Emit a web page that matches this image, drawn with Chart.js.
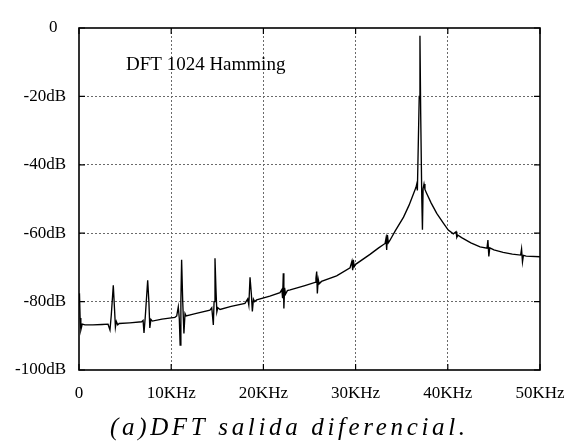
<!DOCTYPE html>
<html>
<head>
<meta charset="utf-8">
<script src="https://cdn.jsdelivr.net/npm/chart.js@4"></script>
<style>
  html, body { margin: 0; padding: 0; background: #fff; }
  #wrap { position: relative; width: 568px; height: 441px; }
</style>
</head>
<body>
<div id="wrap"><canvas id="c" width="568" height="441"></canvas></div>
<script>
// ---- data ----
const freqKHz = [
  0.05, 0.12, 0.2, 0.35, 0.65, 1.5, 2.5, 3.15, 3.36, 3.5, 3.72, 3.85, 3.95, 4.05, 4.2, 4.35,
  5.5, 6.8, 6.95, 7.05, 7.2, 7.45, 7.58, 7.68, 7.8, 7.95, 9.0, 10.4, 10.6, 10.77, 10.88, 10.97,
  11.05, 11.13, 11.25, 11.38, 11.5, 11.62, 12.5, 14.2, 14.4, 14.57, 14.65, 14.75, 14.85, 14.95,
  15.05, 15.3, 16.5, 18.0, 18.3, 18.42, 18.55, 18.7, 18.8, 18.92, 19.05, 19.27, 20.7, 21.8,
  22.0, 22.08, 22.16, 22.22, 22.3, 22.4, 22.6, 22.9, 24.5, 25.6, 25.7, 25.78, 25.85, 25.95,
  26.05, 26.3, 27.94, 29.4, 29.6, 29.68, 29.76, 29.85, 30.0, 31.56, 32.5, 33.2, 33.3, 33.37,
  33.45, 33.55, 33.7, 34.3, 35.2, 35.8, 36.3, 36.55, 36.62, 36.7, 36.9, 36.98, 37.06, 37.18,
  37.25, 37.32, 37.42, 37.52, 37.7, 38.2, 38.8, 39.5, 40.05, 40.6, 40.9, 40.98, 41.1, 41.5,
  42.5, 43.5, 44.25, 44.35, 44.45, 44.55, 45.0, 46.0, 47.0, 47.9, 48.0, 48.1, 48.2, 48.5, 50.0
];
const levelDb = [
  -77.6, -84.8, -88.3, -86.6, -86.8, -86.8, -86.7, -86.6, -88.3, -84, -75.2, -82, -87.5, -85.8, -86.8, -86.4,
  -86.2, -85.9, -85.5, -89.2, -84, -73.8, -80, -87.7, -85.2, -85.7, -85.1, -84.6, -84.2, -81.5, -85, -92.7,
  -80, -67.8, -80, -89.3, -83.5, -84.2, -83.6, -82.5, -81.8, -86.8, -80, -67.3, -76, -83,
  -81.8, -82.3, -81.4, -80.5, -79.2, -81, -72.9, -78, -82.9, -79.3, -80, -79.5, -78.4, -77.4,
  -76.5, -79, -71.7, -82, -76, -77.8, -76.8, -76.6, -75.3, -74.4, -73.2, -71.2, -77.6, -73.5,
  -74.8, -74.1, -72.5, -70.1, -68.2, -70.8, -67.8, -69.8, -69.1, -66.2, -64.3, -63, -61.5, -64.9,
  -60.5, -62.8, -62.2, -59.3, -55.3, -51.8, -48.3, -46.6, -45.8, -47.5, -20, -2.3, -25, -50,
  -59, -47, -45.6, -47.2, -48.3, -51.2, -54.2, -57.0, -59.1, -60.2, -59.6, -61.2, -60.6, -61.3,
  -62.8, -64.0, -64.4, -62, -66.8, -64.3, -64.9, -65.6, -66.1, -66.4, -64.6, -68.4, -66.5, -66.7, -66.9
];
const xTickValues = [0, 10, 20, 30, 40, 50];
const xTickLabels = ['0', '10KHz', '20KHz', '30KHz', '40KHz', '50KHz'];
const yTickValues = [-100, -80, -60, -40, -20, 0];
const yTickLabels = ['-100dB', '-80dB', '-60dB', '-40dB', '-20dB', '0  '];
const annotationText = 'DFT 1024 Hamming';
const captionText = '(a)DFT salida diferencial.';

const points = freqKHz.map((f, i) => ({ x: f, y: levelDb[i] }));

const tickFont = { family: '"Liberation Serif", "Times New Roman", serif', size: 17 };

function gridColor(ctx, min, max) {
  const v = ctx.tick ? ctx.tick.value : null;
  return (v === min || v === max) ? 'rgba(0,0,0,0)' : '#6a6a6a';
}

const framePlugin = {
  id: 'frame',
  afterDatasetsDraw(chart) {
    const { ctx, chartArea: a, scales } = chart;
    ctx.save();
    ctx.strokeStyle = '#000';
    ctx.lineWidth = 1.2;
    const L = 6;
    ctx.beginPath();
    xTickValues.forEach(v => {
      const px = scales.x.getPixelForValue(v);
      ctx.moveTo(px, a.bottom); ctx.lineTo(px, a.bottom - L);
      ctx.moveTo(px, a.top); ctx.lineTo(px, a.top + L);
    });
    yTickValues.forEach(v => {
      const py = scales.y.getPixelForValue(v);
      ctx.moveTo(a.left, py); ctx.lineTo(a.left + L, py);
      ctx.moveTo(a.right, py); ctx.lineTo(a.right - L, py);
    });
    ctx.stroke();
    ctx.lineWidth = 1.6;
    ctx.strokeRect(a.left, a.top, a.right - a.left, a.bottom - a.top);
    // annotation text
    ctx.fillStyle = '#000';
    ctx.font = '19px "Liberation Serif", "Times New Roman", serif';
    ctx.textAlign = 'left';
    ctx.textBaseline = 'alphabetic';
    ctx.fillText(annotationText, a.left + 47, a.top + 41.5);
    ctx.restore();
  },
  afterDraw(chart) {
    const { ctx } = chart;
    ctx.save();
    ctx.fillStyle = '#000';
    ctx.font = 'italic 25px "Liberation Serif", "Times New Roman", serif';
    ctx.textAlign = 'left';
    ctx.textBaseline = 'alphabetic';
    const w = ctx.measureText(captionText).width;
    const target = 355;
    const sp = Math.max(0, (target - w) / (captionText.length - 1));
    if ('letterSpacing' in ctx) ctx.letterSpacing = sp.toFixed(2) + 'px';
    ctx.fillText(captionText, 110, 435);
    ctx.restore();
  }
};

new Chart(document.getElementById('c'), {
  type: 'line',
  data: {
    datasets: [{
      data: points,
      borderColor: '#000',
      borderWidth: 1.35,
      pointRadius: 0,
      tension: 0,
      fill: false
    }]
  },
  options: {
    responsive: false,
    animation: false,
    parsing: true,
    layout: { padding: { left: 0, right: 28, top: 28, bottom: 0 } },
    plugins: { legend: { display: false }, tooltip: { enabled: false }, title: { display: false } },
    scales: {
      x: {
        type: 'linear',
        min: 0, max: 50,
        afterFit(s) { s.height = 71; s.paddingLeft = 0; s.paddingRight = 0; },
        afterBuildTicks(s) { s.ticks = xTickValues.map(v => ({ value: v })); },
        ticks: {
          color: '#000', font: tickFont, padding: 13, maxRotation: 0, autoSkip: false,
          callback: (v) => { const i = xTickValues.indexOf(v); return i >= 0 ? xTickLabels[i] : ''; }
        },
        grid: { color: (c) => gridColor(c, 0, 50), lineWidth: 1, drawTicks: false },
        border: { display: false, dash: [2, 2] }
      },
      y: {
        type: 'linear',
        min: -100, max: 0,
        afterFit(s) { s.width = 79; s.paddingTop = 0; s.paddingBottom = 0; },
        afterBuildTicks(s) { s.ticks = yTickValues.map(v => ({ value: v })); },
        ticks: {
          color: '#000', font: tickFont, padding: 13, autoSkip: false,
          callback: (v) => { const i = yTickValues.indexOf(v); return i >= 0 ? yTickLabels[i] : ''; }
        },
        grid: { color: (c) => gridColor(c, -100, 0), lineWidth: 1, drawTicks: false },
        border: { display: false, dash: [2, 2] }
      }
    }
  },
  plugins: [framePlugin]
});
</script>
</body>
</html>
